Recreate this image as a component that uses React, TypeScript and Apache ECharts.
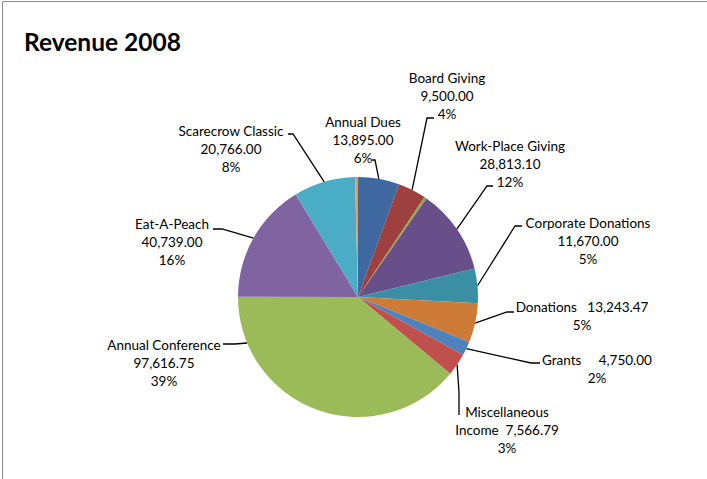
import React, { useEffect, useRef } from "react";
import * as echarts from "echarts";

const chartTitle = "Revenue 2008";
const categories = [
  "Annual Dues",
  "Board Giving",
  "Other Income",
  "Work-Place Giving",
  "Corporate Donations",
  "Donations",
  "Grants",
  "Miscellaneous Income",
  "Annual Conference",
  "Eat-A-Peach",
  "Scarecrow Classic",
  "Interest",
];
const values = [13895.0, 9500.0, 800, 28813.1, 11670.0, 13243.47, 4750.0, 7566.79, 97616.75, 40739.0, 20766.0, 1000];
// how each label's text is arranged ("" = no label)
const labelTemplates = [
  "{name}\n{value}\n{pct}",
  "{name}\n{value}\n{pct}",
  "",
  "{name}\n{value}\n{pct}",
  "{name}\n{value}\n{pct}",
  "{name}   {value}\n{pct}",
  "{name}     {value}\n{pct}",
  "{wrapped}  {value}\n{pct}",
  "{name}\n{value}\n{pct}",
  "{name}\n{value}\n{pct}",
  "{name}\n{value}\n{pct}",
  "",
];

const colors = [
  "#3F68A1", "#9D403E", "#88AB4B", "#684F89", "#3B8FA5", "#CD7B37",
  "#4F81BD", "#C0504D", "#9BBB59", "#8064A2", "#4BACC6", "#F79646",
];

const CX = 358;
const CY = 297;
const R = 120;

// label placement: centre x of text block, top y, leader elbow and end point
const labelPlacement: any[] = [
  { cx: 363, top: 113, elbow: [375, 160], end: [372, 160] },
  { cx: 447, top: 69, elbow: [427, 118], end: [434, 118] },
  null,
  { cx: 510, top: 137, elbow: [487, 186], end: [493, 186] },
  { cx: 588, top: 214, elbow: [515, 226], end: [522, 226] },
  { cx: 582, top: 298, elbow: [507, 312], end: [514, 312] },
  { cx: 597, top: 351, elbow: [531, 363], end: [540, 363] },
  { cx: 507, top: 403, elbow: [459, 392], end: [459, 415] },
  { cx: 164, top: 336, elbow: [235, 344], end: [223, 344], edgeAngle: 247.45 },
  { cx: 172, top: 215, elbow: [222, 229], end: [213, 229] },
  { cx: 231, top: 122, elbow: [293, 134], end: [288, 134] },
  null,
];

const total = values.reduce((a, b) => a + b, 0);
const fmt = (v: number) =>
  v.toLocaleString("en-US", { minimumFractionDigits: 2, maximumFractionDigits: 2 });

function edgePoint(i: number) {
  const p = labelPlacement[i];
  let ang: number;
  if (p && p.edgeAngle !== undefined) {
    ang = p.edgeAngle;
  } else {
    let cum = 0;
    for (let k = 0; k < i; k++) cum += values[k];
    ang = ((cum + values[i] / 2) / total) * 360;
  }
  const rad = (ang * Math.PI) / 180;
  return [CX + R * Math.sin(rad), CY - R * Math.cos(rad)];
}

export default function App() {
  const ref = useRef<HTMLDivElement>(null);
  useEffect(() => {
    if (!ref.current) return;
    const chart = echarts.init(ref.current, null, { renderer: "svg" });
    const font = "Lato, 'Noto Sans', sans-serif";
    chart.setOption({
      animation: false,
      backgroundColor: "#ffffff",
      title: {
        text: chartTitle,
        left: 19,
        top: 24,
        textStyle: { fontFamily: font, fontSize: 24.5, fontWeight: "bold", color: "#000" },
      },
      graphic: [
        {
          type: "rect",
          shape: { x: 2.5, y: 1.5, width: 720, height: 500 },
          style: { fill: "none", stroke: "#8c8c8c", lineWidth: 1 },
          silent: true,
        },
      ],
      series: [
        {
          type: "pie",
          center: [CX, CY],
          radius: R,
          startAngle: 90,
          clockwise: true,
          avoidLabelOverlap: false,
          minAngle: 0,
          itemStyle: { borderWidth: 0 },
          emphasis: { disabled: true },
          label: {
            show: true,
            position: "outside",
            fontFamily: font,
            fontSize: 13.5,
            lineHeight: 18,
            color: "#000",
            formatter: (p: any) => {
              const t = labelTemplates[p.dataIndex];
              const name = categories[p.dataIndex];
              return t
                .replace("{name}", name)
                .replace("{wrapped}", name.replace(" ", "\n"))
                .replace("{value}", fmt(values[p.dataIndex]))
                .replace("{pct}", Math.round((values[p.dataIndex] / total) * 100) + "%");
            },
          },
          labelLine: {
            show: true,
            smooth: false,
            lineStyle: { color: "#000", width: 1.3 },
          },
          labelLayout: (params: any) => {
            const p = labelPlacement[params.dataIndex];
            if (!p) return {};
            return {
              x: p.cx,
              y: p.top,
              align: "center",
              verticalAlign: "top",
              labelLinePoints: [edgePoint(params.dataIndex), p.elbow, p.end],
            };
          },
          data: categories.map((c, i) => ({
            name: c,
            value: values[i],
            itemStyle: { color: colors[i] },
            label: { show: labelTemplates[i] !== "" },
            labelLine: { show: labelTemplates[i] !== "" },
          })),
        },
      ],
    });
    return () => chart.dispose();
  }, []);
  return (
    <div
      ref={ref}
      style={{ position: "fixed", left: 0, top: 0, width: 707, height: 479 }}
    />
  );
}
